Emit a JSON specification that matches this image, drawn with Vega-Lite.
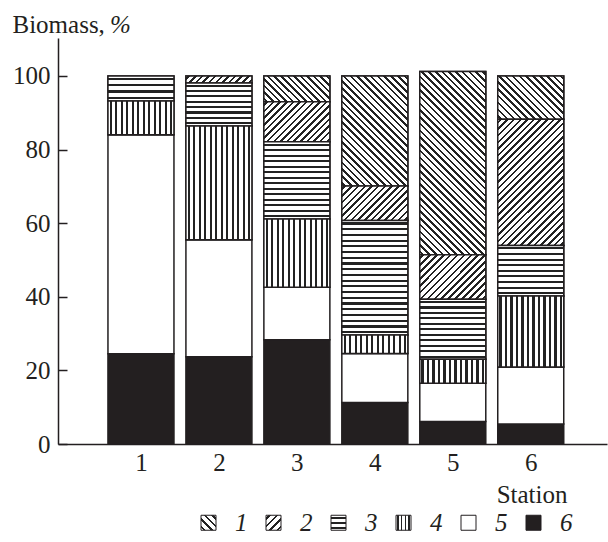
{
"$schema":"https://vega.github.io/schema/vega-lite/v6.json",
"width":549,"height":406,
"autosize":{"type":"none"},
"padding":{"left":58,"top":38,"right":1,"bottom":98},
"background":"white",
"config":{"view":{"stroke":null},"font":"Liberation Serif"},
"title":{"text":"%","orient":"top","anchor":"start","frame":"group","offset":-25,"dx":52,"dy":21,"baseline":"alphabetic","font":"Liberation Serif","fontStyle":"italic","fontSize":25,"fontWeight":"normal","color":"#231f20"},
"data":{"values":[
{"station":1,"cat":"6","value":24.5},{"station":1,"cat":"5","value":59.5},{"station":1,"cat":"4","value":9.2},{"station":1,"cat":"3","value":6.8},
{"station":2,"cat":"6","value":23.7},{"station":2,"cat":"5","value":31.8},{"station":2,"cat":"4","value":30.9},{"station":2,"cat":"3","value":11.7},{"station":2,"cat":"2","value":1.9},
{"station":3,"cat":"6","value":28.3},{"station":3,"cat":"5","value":14.3},{"station":3,"cat":"4","value":18.5},{"station":3,"cat":"3","value":21.0},{"station":3,"cat":"2","value":10.9},{"station":3,"cat":"1","value":7.0},
{"station":4,"cat":"6","value":11.3},{"station":4,"cat":"5","value":13.3},{"station":4,"cat":"4","value":5.0},{"station":4,"cat":"3","value":31.1},{"station":4,"cat":"2","value":9.4},{"station":4,"cat":"1","value":29.9},
{"station":5,"cat":"6","value":6.1},{"station":5,"cat":"5","value":10.4},{"station":5,"cat":"4","value":6.5},{"station":5,"cat":"3","value":16.3},{"station":5,"cat":"2","value":12.1},{"station":5,"cat":"1","value":49.8},
{"station":6,"cat":"6","value":5.4},{"station":6,"cat":"5","value":15.5},{"station":6,"cat":"4","value":19.3},{"station":6,"cat":"3","value":13.7},{"station":6,"cat":"2","value":34.3},{"station":6,"cat":"1","value":11.8}
]},
"transform":[{"stack":"value","groupby":["station"],"sort":[{"field":"cat","order":"descending"}],"as":["y0","y1"]}],
"encoding":{
"x":{"field":"station","type":"quantitative","scale":{"domain":[0,6.914],"nice":false,"zero":false},
 "axis":{"values":[1,2,3,4,5,6],"format":"d","ticks":false,"grid":false,"labelFlush":false,"domainColor":"#231f20","domainWidth":1.5,"labelFont":"Liberation Serif","labelFontSize":25,"labelColor":"#231f20","labelPadding":6,
 "title":"Station","titleFont":"Liberation Serif","titleFontSize":25,"titleFontWeight":"normal","titleColor":"#231f20","titleX":509,"titleY":58,"titleAlign":"right","titleBaseline":"alphabetic","titleAnchor":null}},
"y":{"field":"y0","type":"quantitative","scale":{"domain":[0,110.3],"nice":false},
 "axis":{"values":[0,20,40,60,80,100],"grid":false,"tickSize":-9,"tickWidth":1.5,"tickColor":"#231f20","domainColor":"#231f20","domainWidth":1.5,"labelFont":"Liberation Serif","labelFontSize":25,"labelColor":"#231f20","labelPadding":17,
 "title":"Biomass,","titleFont":"Liberation Serif","titleFontSize":25,"titleFontWeight":"normal","titleColor":"#231f20","titleAngle":0,"titleX":-46,"titleY":-6,"titleAlign":"left","titleBaseline":"alphabetic","titleAnchor":null}},
"y2":{"field":"y1"}
},
"layer":[
{"mark":{"type":"bar","width":66,"stroke":"#231f20","strokeWidth":1.5},
 "encoding":{"fill":{"field":"cat","type":"nominal","scale":{"domain":["1","2","3","4","5","6"],"range":[
 {"expr":"{gradient:'linear',x1:0,y1:1,x2:1,y2:0,stops:[{offset:0.0775,color:'#fff'},{offset:0.0775,color:'#222'},{offset:0.1725,color:'#222'},{offset:0.1725,color:'#fff'},{offset:0.3275,color:'#fff'},{offset:0.3275,color:'#222'},{offset:0.4225,color:'#222'},{offset:0.4225,color:'#fff'},{offset:0.5775,color:'#fff'},{offset:0.5775,color:'#222'},{offset:0.6725,color:'#222'},{offset:0.6725,color:'#fff'},{offset:0.8275,color:'#fff'},{offset:0.8275,color:'#222'},{offset:0.9225,color:'#222'},{offset:0.9225,color:'#fff'}]}"},
 {"expr":"{gradient:'linear',x1:0,y1:0,x2:1,y2:1,stops:[{offset:0.0775,color:'#fff'},{offset:0.0775,color:'#222'},{offset:0.1725,color:'#222'},{offset:0.1725,color:'#fff'},{offset:0.3275,color:'#fff'},{offset:0.3275,color:'#222'},{offset:0.4225,color:'#222'},{offset:0.4225,color:'#fff'},{offset:0.5775,color:'#fff'},{offset:0.5775,color:'#222'},{offset:0.6725,color:'#222'},{offset:0.6725,color:'#fff'},{offset:0.8275,color:'#fff'},{offset:0.8275,color:'#222'},{offset:0.9225,color:'#222'},{offset:0.9225,color:'#fff'}]}"},
 {"expr":"{gradient:'linear',x1:0,y1:0,x2:0,y2:1,stops:[{offset:0.1033,color:'#fff'},{offset:0.1033,color:'#222'},{offset:0.23,color:'#222'},{offset:0.23,color:'#fff'},{offset:0.4367,color:'#fff'},{offset:0.4367,color:'#222'},{offset:0.5633,color:'#222'},{offset:0.5633,color:'#fff'},{offset:0.77,color:'#fff'},{offset:0.77,color:'#222'},{offset:0.8967,color:'#222'},{offset:0.8967,color:'#fff'}]}"},
 {"expr":"{gradient:'linear',x1:0,y1:0,x2:1,y2:0,stops:[{offset:0.0775,color:'#fff'},{offset:0.0775,color:'#222'},{offset:0.1725,color:'#222'},{offset:0.1725,color:'#fff'},{offset:0.3275,color:'#fff'},{offset:0.3275,color:'#222'},{offset:0.4225,color:'#222'},{offset:0.4225,color:'#fff'},{offset:0.5775,color:'#fff'},{offset:0.5775,color:'#222'},{offset:0.6725,color:'#222'},{offset:0.6725,color:'#fff'},{offset:0.8275,color:'#fff'},{offset:0.8275,color:'#222'},{offset:0.9225,color:'#222'},{offset:0.9225,color:'#fff'}]}"},
 "#ffffff","#231f20"]},
 "legend":{"orient":"none","direction":"horizontal","legendX":138,"legendY":472,"title":null,"symbolType":"square","symbolSize":225,"symbolStrokeColor":"#231f20","symbolStrokeWidth":1,"symbolOpacity":1,"labelFont":"Liberation Serif","labelFontStyle":"italic","labelFontSize":25,"labelColor":"#231f20","labelOffset":14,"columnPadding":13}}}},
{"transform":[{"filter":"datum.station==3 && datum.cat=='1'"}],
 "mark":{"type":"bar","width":66,"stroke":"#231f20","strokeWidth":1.5,"fill":{"gradient":"linear","x1":0,"y1":1,"x2":1.2065,"y2":0.5283,"stops":[
{"offset":0.0221,"color":"#fff"},{"offset":0.0221,"color":"#222"},{"offset":0.0493,"color":"#222"},{"offset":0.0493,"color":"#fff"},
{"offset":0.0936,"color":"#fff"},{"offset":0.0936,"color":"#222"},{"offset":0.1207,"color":"#222"},{"offset":0.1207,"color":"#fff"},
{"offset":0.165,"color":"#fff"},{"offset":0.165,"color":"#222"},{"offset":0.1921,"color":"#222"},{"offset":0.1921,"color":"#fff"},
{"offset":0.2364,"color":"#fff"},{"offset":0.2364,"color":"#222"},{"offset":0.2636,"color":"#222"},{"offset":0.2636,"color":"#fff"},
{"offset":0.3079,"color":"#fff"},{"offset":0.3079,"color":"#222"},{"offset":0.335,"color":"#222"},{"offset":0.335,"color":"#fff"},
{"offset":0.3793,"color":"#fff"},{"offset":0.3793,"color":"#222"},{"offset":0.4064,"color":"#222"},{"offset":0.4064,"color":"#fff"},
{"offset":0.4507,"color":"#fff"},{"offset":0.4507,"color":"#222"},{"offset":0.4779,"color":"#222"},{"offset":0.4779,"color":"#fff"},
{"offset":0.5221,"color":"#fff"},{"offset":0.5221,"color":"#222"},{"offset":0.5493,"color":"#222"},{"offset":0.5493,"color":"#fff"},
{"offset":0.5936,"color":"#fff"},{"offset":0.5936,"color":"#222"},{"offset":0.6207,"color":"#222"},{"offset":0.6207,"color":"#fff"},
{"offset":0.665,"color":"#fff"},{"offset":0.665,"color":"#222"},{"offset":0.6921,"color":"#222"},{"offset":0.6921,"color":"#fff"},
{"offset":0.7364,"color":"#fff"},{"offset":0.7364,"color":"#222"},{"offset":0.7636,"color":"#222"},{"offset":0.7636,"color":"#fff"},
{"offset":0.8079,"color":"#fff"},{"offset":0.8079,"color":"#222"},{"offset":0.835,"color":"#222"},{"offset":0.835,"color":"#fff"},
{"offset":0.8793,"color":"#fff"},{"offset":0.8793,"color":"#222"},{"offset":0.9064,"color":"#222"},{"offset":0.9064,"color":"#fff"},
{"offset":0.9507,"color":"#fff"},{"offset":0.9507,"color":"#222"},{"offset":0.9779,"color":"#222"},{"offset":0.9779,"color":"#fff"}]}}},
{"transform":[{"filter":"datum.station==4 && datum.cat=='1'"}],
 "mark":{"type":"bar","width":66,"stroke":"#231f20","strokeWidth":1.5,"fill":{"gradient":"linear","x1":0,"y1":1,"x2":0.7054,"y2":-0.1766,"stops":[
{"offset":0.0119,"color":"#fff"},{"offset":0.0119,"color":"#222"},{"offset":0.0265,"color":"#222"},{"offset":0.0265,"color":"#fff"},
{"offset":0.0504,"color":"#fff"},{"offset":0.0504,"color":"#222"},{"offset":0.065,"color":"#222"},{"offset":0.065,"color":"#fff"},
{"offset":0.0888,"color":"#fff"},{"offset":0.0888,"color":"#222"},{"offset":0.1035,"color":"#222"},{"offset":0.1035,"color":"#fff"},
{"offset":0.1273,"color":"#fff"},{"offset":0.1273,"color":"#222"},{"offset":0.1419,"color":"#222"},{"offset":0.1419,"color":"#fff"},
{"offset":0.1658,"color":"#fff"},{"offset":0.1658,"color":"#222"},{"offset":0.1804,"color":"#222"},{"offset":0.1804,"color":"#fff"},
{"offset":0.2042,"color":"#fff"},{"offset":0.2042,"color":"#222"},{"offset":0.2188,"color":"#222"},{"offset":0.2188,"color":"#fff"},
{"offset":0.2427,"color":"#fff"},{"offset":0.2427,"color":"#222"},{"offset":0.2573,"color":"#222"},{"offset":0.2573,"color":"#fff"},
{"offset":0.2812,"color":"#fff"},{"offset":0.2812,"color":"#222"},{"offset":0.2958,"color":"#222"},{"offset":0.2958,"color":"#fff"},
{"offset":0.3196,"color":"#fff"},{"offset":0.3196,"color":"#222"},{"offset":0.3342,"color":"#222"},{"offset":0.3342,"color":"#fff"},
{"offset":0.3581,"color":"#fff"},{"offset":0.3581,"color":"#222"},{"offset":0.3727,"color":"#222"},{"offset":0.3727,"color":"#fff"},
{"offset":0.3965,"color":"#fff"},{"offset":0.3965,"color":"#222"},{"offset":0.4112,"color":"#222"},{"offset":0.4112,"color":"#fff"},
{"offset":0.435,"color":"#fff"},{"offset":0.435,"color":"#222"},{"offset":0.4496,"color":"#222"},{"offset":0.4496,"color":"#fff"},
{"offset":0.4735,"color":"#fff"},{"offset":0.4735,"color":"#222"},{"offset":0.4881,"color":"#222"},{"offset":0.4881,"color":"#fff"},
{"offset":0.5119,"color":"#fff"},{"offset":0.5119,"color":"#222"},{"offset":0.5265,"color":"#222"},{"offset":0.5265,"color":"#fff"},
{"offset":0.5504,"color":"#fff"},{"offset":0.5504,"color":"#222"},{"offset":0.565,"color":"#222"},{"offset":0.565,"color":"#fff"},
{"offset":0.5888,"color":"#fff"},{"offset":0.5888,"color":"#222"},{"offset":0.6035,"color":"#222"},{"offset":0.6035,"color":"#fff"},
{"offset":0.6273,"color":"#fff"},{"offset":0.6273,"color":"#222"},{"offset":0.6419,"color":"#222"},{"offset":0.6419,"color":"#fff"},
{"offset":0.6658,"color":"#fff"},{"offset":0.6658,"color":"#222"},{"offset":0.6804,"color":"#222"},{"offset":0.6804,"color":"#fff"},
{"offset":0.7042,"color":"#fff"},{"offset":0.7042,"color":"#222"},{"offset":0.7188,"color":"#222"},{"offset":0.7188,"color":"#fff"},
{"offset":0.7427,"color":"#fff"},{"offset":0.7427,"color":"#222"},{"offset":0.7573,"color":"#222"},{"offset":0.7573,"color":"#fff"},
{"offset":0.7812,"color":"#fff"},{"offset":0.7812,"color":"#222"},{"offset":0.7958,"color":"#222"},{"offset":0.7958,"color":"#fff"},
{"offset":0.8196,"color":"#fff"},{"offset":0.8196,"color":"#222"},{"offset":0.8342,"color":"#222"},{"offset":0.8342,"color":"#fff"},
{"offset":0.8581,"color":"#fff"},{"offset":0.8581,"color":"#222"},{"offset":0.8727,"color":"#222"},{"offset":0.8727,"color":"#fff"},
{"offset":0.8965,"color":"#fff"},{"offset":0.8965,"color":"#222"},{"offset":0.9112,"color":"#222"},{"offset":0.9112,"color":"#fff"},
{"offset":0.935,"color":"#fff"},{"offset":0.935,"color":"#222"},{"offset":0.9496,"color":"#222"},{"offset":0.9496,"color":"#fff"},
{"offset":0.9735,"color":"#fff"},{"offset":0.9735,"color":"#222"},{"offset":0.9881,"color":"#222"},{"offset":0.9881,"color":"#fff"}]}}},
{"transform":[{"filter":"datum.station==5 && datum.cat=='1'"}],
 "mark":{"type":"bar","width":66,"stroke":"#231f20","strokeWidth":1.5,"fill":{"gradient":"linear","x1":0,"y1":1,"x2":0.4335,"y2":-0.2039,"stops":[
{"offset":0.0084,"color":"#fff"},{"offset":0.0084,"color":"#222"},{"offset":0.0186,"color":"#222"},{"offset":0.0186,"color":"#fff"},
{"offset":0.0354,"color":"#fff"},{"offset":0.0354,"color":"#222"},{"offset":0.0457,"color":"#222"},{"offset":0.0457,"color":"#fff"},
{"offset":0.0624,"color":"#fff"},{"offset":0.0624,"color":"#222"},{"offset":0.0727,"color":"#222"},{"offset":0.0727,"color":"#fff"},
{"offset":0.0894,"color":"#fff"},{"offset":0.0894,"color":"#222"},{"offset":0.0997,"color":"#222"},{"offset":0.0997,"color":"#fff"},
{"offset":0.1165,"color":"#fff"},{"offset":0.1165,"color":"#222"},{"offset":0.1268,"color":"#222"},{"offset":0.1268,"color":"#fff"},
{"offset":0.1435,"color":"#fff"},{"offset":0.1435,"color":"#222"},{"offset":0.1538,"color":"#222"},{"offset":0.1538,"color":"#fff"},
{"offset":0.1705,"color":"#fff"},{"offset":0.1705,"color":"#222"},{"offset":0.1808,"color":"#222"},{"offset":0.1808,"color":"#fff"},
{"offset":0.1975,"color":"#fff"},{"offset":0.1975,"color":"#222"},{"offset":0.2078,"color":"#222"},{"offset":0.2078,"color":"#fff"},
{"offset":0.2246,"color":"#fff"},{"offset":0.2246,"color":"#222"},{"offset":0.2349,"color":"#222"},{"offset":0.2349,"color":"#fff"},
{"offset":0.2516,"color":"#fff"},{"offset":0.2516,"color":"#222"},{"offset":0.2619,"color":"#222"},{"offset":0.2619,"color":"#fff"},
{"offset":0.2786,"color":"#fff"},{"offset":0.2786,"color":"#222"},{"offset":0.2889,"color":"#222"},{"offset":0.2889,"color":"#fff"},
{"offset":0.3056,"color":"#fff"},{"offset":0.3056,"color":"#222"},{"offset":0.3159,"color":"#222"},{"offset":0.3159,"color":"#fff"},
{"offset":0.3327,"color":"#fff"},{"offset":0.3327,"color":"#222"},{"offset":0.343,"color":"#222"},{"offset":0.343,"color":"#fff"},
{"offset":0.3597,"color":"#fff"},{"offset":0.3597,"color":"#222"},{"offset":0.37,"color":"#222"},{"offset":0.37,"color":"#fff"},
{"offset":0.3867,"color":"#fff"},{"offset":0.3867,"color":"#222"},{"offset":0.397,"color":"#222"},{"offset":0.397,"color":"#fff"},
{"offset":0.4138,"color":"#fff"},{"offset":0.4138,"color":"#222"},{"offset":0.4241,"color":"#222"},{"offset":0.4241,"color":"#fff"},
{"offset":0.4408,"color":"#fff"},{"offset":0.4408,"color":"#222"},{"offset":0.4511,"color":"#222"},{"offset":0.4511,"color":"#fff"},
{"offset":0.4678,"color":"#fff"},{"offset":0.4678,"color":"#222"},{"offset":0.4781,"color":"#222"},{"offset":0.4781,"color":"#fff"},
{"offset":0.4948,"color":"#fff"},{"offset":0.4948,"color":"#222"},{"offset":0.5051,"color":"#222"},{"offset":0.5051,"color":"#fff"},
{"offset":0.5219,"color":"#fff"},{"offset":0.5219,"color":"#222"},{"offset":0.5322,"color":"#222"},{"offset":0.5322,"color":"#fff"},
{"offset":0.5489,"color":"#fff"},{"offset":0.5489,"color":"#222"},{"offset":0.5592,"color":"#222"},{"offset":0.5592,"color":"#fff"},
{"offset":0.5759,"color":"#fff"},{"offset":0.5759,"color":"#222"},{"offset":0.5862,"color":"#222"},{"offset":0.5862,"color":"#fff"},
{"offset":0.603,"color":"#fff"},{"offset":0.603,"color":"#222"},{"offset":0.6132,"color":"#222"},{"offset":0.6132,"color":"#fff"},
{"offset":0.63,"color":"#fff"},{"offset":0.63,"color":"#222"},{"offset":0.6403,"color":"#222"},{"offset":0.6403,"color":"#fff"},
{"offset":0.657,"color":"#fff"},{"offset":0.657,"color":"#222"},{"offset":0.6673,"color":"#222"},{"offset":0.6673,"color":"#fff"},
{"offset":0.684,"color":"#fff"},{"offset":0.684,"color":"#222"},{"offset":0.6943,"color":"#222"},{"offset":0.6943,"color":"#fff"},
{"offset":0.7111,"color":"#fff"},{"offset":0.7111,"color":"#222"},{"offset":0.7213,"color":"#222"},{"offset":0.7213,"color":"#fff"},
{"offset":0.7381,"color":"#fff"},{"offset":0.7381,"color":"#222"},{"offset":0.7484,"color":"#222"},{"offset":0.7484,"color":"#fff"},
{"offset":0.7651,"color":"#fff"},{"offset":0.7651,"color":"#222"},{"offset":0.7754,"color":"#222"},{"offset":0.7754,"color":"#fff"},
{"offset":0.7922,"color":"#fff"},{"offset":0.7922,"color":"#222"},{"offset":0.8024,"color":"#222"},{"offset":0.8024,"color":"#fff"},
{"offset":0.8192,"color":"#fff"},{"offset":0.8192,"color":"#222"},{"offset":0.8295,"color":"#222"},{"offset":0.8295,"color":"#fff"},
{"offset":0.8462,"color":"#fff"},{"offset":0.8462,"color":"#222"},{"offset":0.8565,"color":"#222"},{"offset":0.8565,"color":"#fff"},
{"offset":0.8732,"color":"#fff"},{"offset":0.8732,"color":"#222"},{"offset":0.8835,"color":"#222"},{"offset":0.8835,"color":"#fff"},
{"offset":0.9003,"color":"#fff"},{"offset":0.9003,"color":"#222"},{"offset":0.9105,"color":"#222"},{"offset":0.9105,"color":"#fff"},
{"offset":0.9273,"color":"#fff"},{"offset":0.9273,"color":"#222"},{"offset":0.9376,"color":"#222"},{"offset":0.9376,"color":"#fff"},
{"offset":0.9543,"color":"#fff"},{"offset":0.9543,"color":"#222"},{"offset":0.9646,"color":"#222"},{"offset":0.9646,"color":"#fff"},
{"offset":0.9814,"color":"#fff"},{"offset":0.9814,"color":"#222"},{"offset":0.9916,"color":"#222"},{"offset":0.9916,"color":"#fff"}]}}},
{"transform":[{"filter":"datum.station==6 && datum.cat=='1'"}],
 "mark":{"type":"bar","width":66,"stroke":"#231f20","strokeWidth":1.5,"fill":{"gradient":"linear","x1":0,"y1":1,"x2":1.157,"y2":0.2387,"stops":[
{"offset":0.0194,"color":"#fff"},{"offset":0.0194,"color":"#222"},{"offset":0.0431,"color":"#222"},{"offset":0.0431,"color":"#fff"},
{"offset":0.0819,"color":"#fff"},{"offset":0.0819,"color":"#222"},{"offset":0.1056,"color":"#222"},{"offset":0.1056,"color":"#fff"},
{"offset":0.1444,"color":"#fff"},{"offset":0.1444,"color":"#222"},{"offset":0.1681,"color":"#222"},{"offset":0.1681,"color":"#fff"},
{"offset":0.2069,"color":"#fff"},{"offset":0.2069,"color":"#222"},{"offset":0.2306,"color":"#222"},{"offset":0.2306,"color":"#fff"},
{"offset":0.2694,"color":"#fff"},{"offset":0.2694,"color":"#222"},{"offset":0.2931,"color":"#222"},{"offset":0.2931,"color":"#fff"},
{"offset":0.3319,"color":"#fff"},{"offset":0.3319,"color":"#222"},{"offset":0.3556,"color":"#222"},{"offset":0.3556,"color":"#fff"},
{"offset":0.3944,"color":"#fff"},{"offset":0.3944,"color":"#222"},{"offset":0.4181,"color":"#222"},{"offset":0.4181,"color":"#fff"},
{"offset":0.4569,"color":"#fff"},{"offset":0.4569,"color":"#222"},{"offset":0.4806,"color":"#222"},{"offset":0.4806,"color":"#fff"},
{"offset":0.5194,"color":"#fff"},{"offset":0.5194,"color":"#222"},{"offset":0.5431,"color":"#222"},{"offset":0.5431,"color":"#fff"},
{"offset":0.5819,"color":"#fff"},{"offset":0.5819,"color":"#222"},{"offset":0.6056,"color":"#222"},{"offset":0.6056,"color":"#fff"},
{"offset":0.6444,"color":"#fff"},{"offset":0.6444,"color":"#222"},{"offset":0.6681,"color":"#222"},{"offset":0.6681,"color":"#fff"},
{"offset":0.7069,"color":"#fff"},{"offset":0.7069,"color":"#222"},{"offset":0.7306,"color":"#222"},{"offset":0.7306,"color":"#fff"},
{"offset":0.7694,"color":"#fff"},{"offset":0.7694,"color":"#222"},{"offset":0.7931,"color":"#222"},{"offset":0.7931,"color":"#fff"},
{"offset":0.8319,"color":"#fff"},{"offset":0.8319,"color":"#222"},{"offset":0.8556,"color":"#222"},{"offset":0.8556,"color":"#fff"},
{"offset":0.8944,"color":"#fff"},{"offset":0.8944,"color":"#222"},{"offset":0.9181,"color":"#222"},{"offset":0.9181,"color":"#fff"},
{"offset":0.9569,"color":"#fff"},{"offset":0.9569,"color":"#222"},{"offset":0.9806,"color":"#222"},{"offset":0.9806,"color":"#fff"}]}}},
{"transform":[{"filter":"datum.station==2 && datum.cat=='2'"}],
 "mark":{"type":"bar","width":66,"stroke":"#231f20","strokeWidth":1.5,"fill":{"gradient":"linear","x1":0,"y1":0,"x2":1.0937,"y2":0.1159,"stops":[
{"offset":0.0282,"color":"#fff"},{"offset":0.0282,"color":"#222"},{"offset":0.0627,"color":"#222"},{"offset":0.0627,"color":"#fff"},
{"offset":0.1191,"color":"#fff"},{"offset":0.1191,"color":"#222"},{"offset":0.1536,"color":"#222"},{"offset":0.1536,"color":"#fff"},
{"offset":0.21,"color":"#fff"},{"offset":0.21,"color":"#222"},{"offset":0.2445,"color":"#222"},{"offset":0.2445,"color":"#fff"},
{"offset":0.3009,"color":"#fff"},{"offset":0.3009,"color":"#222"},{"offset":0.3355,"color":"#222"},{"offset":0.3355,"color":"#fff"},
{"offset":0.3918,"color":"#fff"},{"offset":0.3918,"color":"#222"},{"offset":0.4264,"color":"#222"},{"offset":0.4264,"color":"#fff"},
{"offset":0.4827,"color":"#fff"},{"offset":0.4827,"color":"#222"},{"offset":0.5173,"color":"#222"},{"offset":0.5173,"color":"#fff"},
{"offset":0.5736,"color":"#fff"},{"offset":0.5736,"color":"#222"},{"offset":0.6082,"color":"#222"},{"offset":0.6082,"color":"#fff"},
{"offset":0.6645,"color":"#fff"},{"offset":0.6645,"color":"#222"},{"offset":0.6991,"color":"#222"},{"offset":0.6991,"color":"#fff"},
{"offset":0.7555,"color":"#fff"},{"offset":0.7555,"color":"#222"},{"offset":0.79,"color":"#222"},{"offset":0.79,"color":"#fff"},
{"offset":0.8464,"color":"#fff"},{"offset":0.8464,"color":"#222"},{"offset":0.8809,"color":"#222"},{"offset":0.8809,"color":"#fff"},
{"offset":0.9373,"color":"#fff"},{"offset":0.9373,"color":"#222"},{"offset":0.9718,"color":"#222"},{"offset":0.9718,"color":"#fff"}]}}},
{"transform":[{"filter":"datum.station==3 && datum.cat=='2'"}],
 "mark":{"type":"bar","width":66,"stroke":"#231f20","strokeWidth":1.5,"fill":{"gradient":"linear","x1":0,"y1":0,"x2":1.1741,"y2":0.7134,"stops":[
{"offset":0.0194,"color":"#fff"},{"offset":0.0194,"color":"#222"},{"offset":0.0431,"color":"#222"},{"offset":0.0431,"color":"#fff"},
{"offset":0.0819,"color":"#fff"},{"offset":0.0819,"color":"#222"},{"offset":0.1056,"color":"#222"},{"offset":0.1056,"color":"#fff"},
{"offset":0.1444,"color":"#fff"},{"offset":0.1444,"color":"#222"},{"offset":0.1681,"color":"#222"},{"offset":0.1681,"color":"#fff"},
{"offset":0.2069,"color":"#fff"},{"offset":0.2069,"color":"#222"},{"offset":0.2306,"color":"#222"},{"offset":0.2306,"color":"#fff"},
{"offset":0.2694,"color":"#fff"},{"offset":0.2694,"color":"#222"},{"offset":0.2931,"color":"#222"},{"offset":0.2931,"color":"#fff"},
{"offset":0.3319,"color":"#fff"},{"offset":0.3319,"color":"#222"},{"offset":0.3556,"color":"#222"},{"offset":0.3556,"color":"#fff"},
{"offset":0.3944,"color":"#fff"},{"offset":0.3944,"color":"#222"},{"offset":0.4181,"color":"#222"},{"offset":0.4181,"color":"#fff"},
{"offset":0.4569,"color":"#fff"},{"offset":0.4569,"color":"#222"},{"offset":0.4806,"color":"#222"},{"offset":0.4806,"color":"#fff"},
{"offset":0.5194,"color":"#fff"},{"offset":0.5194,"color":"#222"},{"offset":0.5431,"color":"#222"},{"offset":0.5431,"color":"#fff"},
{"offset":0.5819,"color":"#fff"},{"offset":0.5819,"color":"#222"},{"offset":0.6056,"color":"#222"},{"offset":0.6056,"color":"#fff"},
{"offset":0.6444,"color":"#fff"},{"offset":0.6444,"color":"#222"},{"offset":0.6681,"color":"#222"},{"offset":0.6681,"color":"#fff"},
{"offset":0.7069,"color":"#fff"},{"offset":0.7069,"color":"#222"},{"offset":0.7306,"color":"#222"},{"offset":0.7306,"color":"#fff"},
{"offset":0.7694,"color":"#fff"},{"offset":0.7694,"color":"#222"},{"offset":0.7931,"color":"#222"},{"offset":0.7931,"color":"#fff"},
{"offset":0.8319,"color":"#fff"},{"offset":0.8319,"color":"#222"},{"offset":0.8556,"color":"#222"},{"offset":0.8556,"color":"#fff"},
{"offset":0.8944,"color":"#fff"},{"offset":0.8944,"color":"#222"},{"offset":0.9181,"color":"#222"},{"offset":0.9181,"color":"#fff"},
{"offset":0.9569,"color":"#fff"},{"offset":0.9569,"color":"#222"},{"offset":0.9806,"color":"#222"},{"offset":0.9806,"color":"#fff"}]}}},
{"transform":[{"filter":"datum.station==4 && datum.cat=='2'"}],
 "mark":{"type":"bar","width":66,"stroke":"#231f20","strokeWidth":1.5,"fill":{"gradient":"linear","x1":0,"y1":0,"x2":1.1956,"y2":0.6268,"stops":[
{"offset":0.0207,"color":"#fff"},{"offset":0.0207,"color":"#222"},{"offset":0.046,"color":"#222"},{"offset":0.046,"color":"#fff"},
{"offset":0.0873,"color":"#fff"},{"offset":0.0873,"color":"#222"},{"offset":0.1127,"color":"#222"},{"offset":0.1127,"color":"#fff"},
{"offset":0.154,"color":"#fff"},{"offset":0.154,"color":"#222"},{"offset":0.1793,"color":"#222"},{"offset":0.1793,"color":"#fff"},
{"offset":0.2207,"color":"#fff"},{"offset":0.2207,"color":"#222"},{"offset":0.246,"color":"#222"},{"offset":0.246,"color":"#fff"},
{"offset":0.2873,"color":"#fff"},{"offset":0.2873,"color":"#222"},{"offset":0.3127,"color":"#222"},{"offset":0.3127,"color":"#fff"},
{"offset":0.354,"color":"#fff"},{"offset":0.354,"color":"#222"},{"offset":0.3793,"color":"#222"},{"offset":0.3793,"color":"#fff"},
{"offset":0.4207,"color":"#fff"},{"offset":0.4207,"color":"#222"},{"offset":0.446,"color":"#222"},{"offset":0.446,"color":"#fff"},
{"offset":0.4873,"color":"#fff"},{"offset":0.4873,"color":"#222"},{"offset":0.5127,"color":"#222"},{"offset":0.5127,"color":"#fff"},
{"offset":0.554,"color":"#fff"},{"offset":0.554,"color":"#222"},{"offset":0.5793,"color":"#222"},{"offset":0.5793,"color":"#fff"},
{"offset":0.6207,"color":"#fff"},{"offset":0.6207,"color":"#222"},{"offset":0.646,"color":"#222"},{"offset":0.646,"color":"#fff"},
{"offset":0.6873,"color":"#fff"},{"offset":0.6873,"color":"#222"},{"offset":0.7127,"color":"#222"},{"offset":0.7127,"color":"#fff"},
{"offset":0.754,"color":"#fff"},{"offset":0.754,"color":"#222"},{"offset":0.7793,"color":"#222"},{"offset":0.7793,"color":"#fff"},
{"offset":0.8207,"color":"#fff"},{"offset":0.8207,"color":"#222"},{"offset":0.846,"color":"#222"},{"offset":0.846,"color":"#fff"},
{"offset":0.8873,"color":"#fff"},{"offset":0.8873,"color":"#222"},{"offset":0.9127,"color":"#222"},{"offset":0.9127,"color":"#fff"},
{"offset":0.954,"color":"#fff"},{"offset":0.954,"color":"#222"},{"offset":0.9793,"color":"#222"},{"offset":0.9793,"color":"#fff"}]}}},
{"transform":[{"filter":"datum.station==5 && datum.cat=='2'"}],
 "mark":{"type":"bar","width":66,"stroke":"#231f20","strokeWidth":1.5,"fill":{"gradient":"linear","x1":0,"y1":0,"x2":1.151,"y2":0.776,"stops":[
{"offset":0.0194,"color":"#fff"},{"offset":0.0194,"color":"#222"},{"offset":0.0431,"color":"#222"},{"offset":0.0431,"color":"#fff"},
{"offset":0.0819,"color":"#fff"},{"offset":0.0819,"color":"#222"},{"offset":0.1056,"color":"#222"},{"offset":0.1056,"color":"#fff"},
{"offset":0.1444,"color":"#fff"},{"offset":0.1444,"color":"#222"},{"offset":0.1681,"color":"#222"},{"offset":0.1681,"color":"#fff"},
{"offset":0.2069,"color":"#fff"},{"offset":0.2069,"color":"#222"},{"offset":0.2306,"color":"#222"},{"offset":0.2306,"color":"#fff"},
{"offset":0.2694,"color":"#fff"},{"offset":0.2694,"color":"#222"},{"offset":0.2931,"color":"#222"},{"offset":0.2931,"color":"#fff"},
{"offset":0.3319,"color":"#fff"},{"offset":0.3319,"color":"#222"},{"offset":0.3556,"color":"#222"},{"offset":0.3556,"color":"#fff"},
{"offset":0.3944,"color":"#fff"},{"offset":0.3944,"color":"#222"},{"offset":0.4181,"color":"#222"},{"offset":0.4181,"color":"#fff"},
{"offset":0.4569,"color":"#fff"},{"offset":0.4569,"color":"#222"},{"offset":0.4806,"color":"#222"},{"offset":0.4806,"color":"#fff"},
{"offset":0.5194,"color":"#fff"},{"offset":0.5194,"color":"#222"},{"offset":0.5431,"color":"#222"},{"offset":0.5431,"color":"#fff"},
{"offset":0.5819,"color":"#fff"},{"offset":0.5819,"color":"#222"},{"offset":0.6056,"color":"#222"},{"offset":0.6056,"color":"#fff"},
{"offset":0.6444,"color":"#fff"},{"offset":0.6444,"color":"#222"},{"offset":0.6681,"color":"#222"},{"offset":0.6681,"color":"#fff"},
{"offset":0.7069,"color":"#fff"},{"offset":0.7069,"color":"#222"},{"offset":0.7306,"color":"#222"},{"offset":0.7306,"color":"#fff"},
{"offset":0.7694,"color":"#fff"},{"offset":0.7694,"color":"#222"},{"offset":0.7931,"color":"#222"},{"offset":0.7931,"color":"#fff"},
{"offset":0.8319,"color":"#fff"},{"offset":0.8319,"color":"#222"},{"offset":0.8556,"color":"#222"},{"offset":0.8556,"color":"#fff"},
{"offset":0.8944,"color":"#fff"},{"offset":0.8944,"color":"#222"},{"offset":0.9181,"color":"#222"},{"offset":0.9181,"color":"#fff"},
{"offset":0.9569,"color":"#fff"},{"offset":0.9569,"color":"#222"},{"offset":0.9806,"color":"#222"},{"offset":0.9806,"color":"#fff"}]}}},
{"transform":[{"filter":"datum.station==6 && datum.cat=='2'"}],
 "mark":{"type":"bar","width":66,"stroke":"#231f20","strokeWidth":1.5,"fill":{"gradient":"linear","x1":0,"y1":0,"x2":0.625,"y2":1.196,"stops":[
{"offset":0.0107,"color":"#fff"},{"offset":0.0107,"color":"#222"},{"offset":0.0238,"color":"#222"},{"offset":0.0238,"color":"#fff"},
{"offset":0.0452,"color":"#fff"},{"offset":0.0452,"color":"#222"},{"offset":0.0583,"color":"#222"},{"offset":0.0583,"color":"#fff"},
{"offset":0.0797,"color":"#fff"},{"offset":0.0797,"color":"#222"},{"offset":0.0928,"color":"#222"},{"offset":0.0928,"color":"#fff"},
{"offset":0.1141,"color":"#fff"},{"offset":0.1141,"color":"#222"},{"offset":0.1272,"color":"#222"},{"offset":0.1272,"color":"#fff"},
{"offset":0.1486,"color":"#fff"},{"offset":0.1486,"color":"#222"},{"offset":0.1617,"color":"#222"},{"offset":0.1617,"color":"#fff"},
{"offset":0.1831,"color":"#fff"},{"offset":0.1831,"color":"#222"},{"offset":0.1962,"color":"#222"},{"offset":0.1962,"color":"#fff"},
{"offset":0.2176,"color":"#fff"},{"offset":0.2176,"color":"#222"},{"offset":0.2307,"color":"#222"},{"offset":0.2307,"color":"#fff"},
{"offset":0.2521,"color":"#fff"},{"offset":0.2521,"color":"#222"},{"offset":0.2652,"color":"#222"},{"offset":0.2652,"color":"#fff"},
{"offset":0.2866,"color":"#fff"},{"offset":0.2866,"color":"#222"},{"offset":0.2997,"color":"#222"},{"offset":0.2997,"color":"#fff"},
{"offset":0.321,"color":"#fff"},{"offset":0.321,"color":"#222"},{"offset":0.3341,"color":"#222"},{"offset":0.3341,"color":"#fff"},
{"offset":0.3555,"color":"#fff"},{"offset":0.3555,"color":"#222"},{"offset":0.3686,"color":"#222"},{"offset":0.3686,"color":"#fff"},
{"offset":0.39,"color":"#fff"},{"offset":0.39,"color":"#222"},{"offset":0.4031,"color":"#222"},{"offset":0.4031,"color":"#fff"},
{"offset":0.4245,"color":"#fff"},{"offset":0.4245,"color":"#222"},{"offset":0.4376,"color":"#222"},{"offset":0.4376,"color":"#fff"},
{"offset":0.459,"color":"#fff"},{"offset":0.459,"color":"#222"},{"offset":0.4721,"color":"#222"},{"offset":0.4721,"color":"#fff"},
{"offset":0.4934,"color":"#fff"},{"offset":0.4934,"color":"#222"},{"offset":0.5066,"color":"#222"},{"offset":0.5066,"color":"#fff"},
{"offset":0.5279,"color":"#fff"},{"offset":0.5279,"color":"#222"},{"offset":0.541,"color":"#222"},{"offset":0.541,"color":"#fff"},
{"offset":0.5624,"color":"#fff"},{"offset":0.5624,"color":"#222"},{"offset":0.5755,"color":"#222"},{"offset":0.5755,"color":"#fff"},
{"offset":0.5969,"color":"#fff"},{"offset":0.5969,"color":"#222"},{"offset":0.61,"color":"#222"},{"offset":0.61,"color":"#fff"},
{"offset":0.6314,"color":"#fff"},{"offset":0.6314,"color":"#222"},{"offset":0.6445,"color":"#222"},{"offset":0.6445,"color":"#fff"},
{"offset":0.6659,"color":"#fff"},{"offset":0.6659,"color":"#222"},{"offset":0.679,"color":"#222"},{"offset":0.679,"color":"#fff"},
{"offset":0.7003,"color":"#fff"},{"offset":0.7003,"color":"#222"},{"offset":0.7134,"color":"#222"},{"offset":0.7134,"color":"#fff"},
{"offset":0.7348,"color":"#fff"},{"offset":0.7348,"color":"#222"},{"offset":0.7479,"color":"#222"},{"offset":0.7479,"color":"#fff"},
{"offset":0.7693,"color":"#fff"},{"offset":0.7693,"color":"#222"},{"offset":0.7824,"color":"#222"},{"offset":0.7824,"color":"#fff"},
{"offset":0.8038,"color":"#fff"},{"offset":0.8038,"color":"#222"},{"offset":0.8169,"color":"#222"},{"offset":0.8169,"color":"#fff"},
{"offset":0.8383,"color":"#fff"},{"offset":0.8383,"color":"#222"},{"offset":0.8514,"color":"#222"},{"offset":0.8514,"color":"#fff"},
{"offset":0.8728,"color":"#fff"},{"offset":0.8728,"color":"#222"},{"offset":0.8859,"color":"#222"},{"offset":0.8859,"color":"#fff"},
{"offset":0.9072,"color":"#fff"},{"offset":0.9072,"color":"#222"},{"offset":0.9203,"color":"#222"},{"offset":0.9203,"color":"#fff"},
{"offset":0.9417,"color":"#fff"},{"offset":0.9417,"color":"#222"},{"offset":0.9548,"color":"#222"},{"offset":0.9548,"color":"#fff"},
{"offset":0.9762,"color":"#fff"},{"offset":0.9762,"color":"#222"},{"offset":0.9893,"color":"#222"},{"offset":0.9893,"color":"#fff"}]}}},
{"transform":[{"filter":"datum.station==1 && datum.cat=='3'"}],
 "mark":{"type":"bar","width":66,"stroke":"#231f20","strokeWidth":1.5,"fill":{"gradient":"linear","x1":0,"y1":0,"x2":0,"y2":1,"stops":[
{"offset":0.0775,"color":"#fff"},{"offset":0.0775,"color":"#222"},{"offset":0.1725,"color":"#222"},{"offset":0.1725,"color":"#fff"},
{"offset":0.3275,"color":"#fff"},{"offset":0.3275,"color":"#222"},{"offset":0.4225,"color":"#222"},{"offset":0.4225,"color":"#fff"},
{"offset":0.5775,"color":"#fff"},{"offset":0.5775,"color":"#222"},{"offset":0.6725,"color":"#222"},{"offset":0.6725,"color":"#fff"},
{"offset":0.8275,"color":"#fff"},{"offset":0.8275,"color":"#222"},{"offset":0.9225,"color":"#222"},{"offset":0.9225,"color":"#fff"}]}}},
{"transform":[{"filter":"datum.station==2 && datum.cat=='3'"}],
 "mark":{"type":"bar","width":66,"stroke":"#231f20","strokeWidth":1.5,"fill":{"gradient":"linear","x1":0,"y1":0,"x2":0,"y2":1,"stops":[
{"offset":0.0388,"color":"#fff"},{"offset":0.0388,"color":"#222"},{"offset":0.0863,"color":"#222"},{"offset":0.0863,"color":"#fff"},
{"offset":0.1638,"color":"#fff"},{"offset":0.1638,"color":"#222"},{"offset":0.2113,"color":"#222"},{"offset":0.2113,"color":"#fff"},
{"offset":0.2888,"color":"#fff"},{"offset":0.2888,"color":"#222"},{"offset":0.3363,"color":"#222"},{"offset":0.3363,"color":"#fff"},
{"offset":0.4138,"color":"#fff"},{"offset":0.4138,"color":"#222"},{"offset":0.4613,"color":"#222"},{"offset":0.4613,"color":"#fff"},
{"offset":0.5388,"color":"#fff"},{"offset":0.5388,"color":"#222"},{"offset":0.5863,"color":"#222"},{"offset":0.5863,"color":"#fff"},
{"offset":0.6638,"color":"#fff"},{"offset":0.6638,"color":"#222"},{"offset":0.7113,"color":"#222"},{"offset":0.7113,"color":"#fff"},
{"offset":0.7888,"color":"#fff"},{"offset":0.7888,"color":"#222"},{"offset":0.8363,"color":"#222"},{"offset":0.8363,"color":"#fff"},
{"offset":0.9138,"color":"#fff"},{"offset":0.9138,"color":"#222"},{"offset":0.9613,"color":"#222"},{"offset":0.9613,"color":"#fff"}]}}},
{"transform":[{"filter":"datum.station==3 && datum.cat=='3'"}],
 "mark":{"type":"bar","width":66,"stroke":"#231f20","strokeWidth":1.5,"fill":{"gradient":"linear","x1":0,"y1":0,"x2":0,"y2":1,"stops":[
{"offset":0.0221,"color":"#fff"},{"offset":0.0221,"color":"#222"},{"offset":0.0493,"color":"#222"},{"offset":0.0493,"color":"#fff"},
{"offset":0.0936,"color":"#fff"},{"offset":0.0936,"color":"#222"},{"offset":0.1207,"color":"#222"},{"offset":0.1207,"color":"#fff"},
{"offset":0.165,"color":"#fff"},{"offset":0.165,"color":"#222"},{"offset":0.1921,"color":"#222"},{"offset":0.1921,"color":"#fff"},
{"offset":0.2364,"color":"#fff"},{"offset":0.2364,"color":"#222"},{"offset":0.2636,"color":"#222"},{"offset":0.2636,"color":"#fff"},
{"offset":0.3079,"color":"#fff"},{"offset":0.3079,"color":"#222"},{"offset":0.335,"color":"#222"},{"offset":0.335,"color":"#fff"},
{"offset":0.3793,"color":"#fff"},{"offset":0.3793,"color":"#222"},{"offset":0.4064,"color":"#222"},{"offset":0.4064,"color":"#fff"},
{"offset":0.4507,"color":"#fff"},{"offset":0.4507,"color":"#222"},{"offset":0.4779,"color":"#222"},{"offset":0.4779,"color":"#fff"},
{"offset":0.5221,"color":"#fff"},{"offset":0.5221,"color":"#222"},{"offset":0.5493,"color":"#222"},{"offset":0.5493,"color":"#fff"},
{"offset":0.5936,"color":"#fff"},{"offset":0.5936,"color":"#222"},{"offset":0.6207,"color":"#222"},{"offset":0.6207,"color":"#fff"},
{"offset":0.665,"color":"#fff"},{"offset":0.665,"color":"#222"},{"offset":0.6921,"color":"#222"},{"offset":0.6921,"color":"#fff"},
{"offset":0.7364,"color":"#fff"},{"offset":0.7364,"color":"#222"},{"offset":0.7636,"color":"#222"},{"offset":0.7636,"color":"#fff"},
{"offset":0.8079,"color":"#fff"},{"offset":0.8079,"color":"#222"},{"offset":0.835,"color":"#222"},{"offset":0.835,"color":"#fff"},
{"offset":0.8793,"color":"#fff"},{"offset":0.8793,"color":"#222"},{"offset":0.9064,"color":"#222"},{"offset":0.9064,"color":"#fff"},
{"offset":0.9507,"color":"#fff"},{"offset":0.9507,"color":"#222"},{"offset":0.9779,"color":"#222"},{"offset":0.9779,"color":"#fff"}]}}},
{"transform":[{"filter":"datum.station==4 && datum.cat=='3'"}],
 "mark":{"type":"bar","width":66,"stroke":"#231f20","strokeWidth":1.5,"fill":{"gradient":"linear","x1":0,"y1":0,"x2":0,"y2":1,"stops":[
{"offset":0.0155,"color":"#fff"},{"offset":0.0155,"color":"#222"},{"offset":0.0345,"color":"#222"},{"offset":0.0345,"color":"#fff"},
{"offset":0.0655,"color":"#fff"},{"offset":0.0655,"color":"#222"},{"offset":0.0845,"color":"#222"},{"offset":0.0845,"color":"#fff"},
{"offset":0.1155,"color":"#fff"},{"offset":0.1155,"color":"#222"},{"offset":0.1345,"color":"#222"},{"offset":0.1345,"color":"#fff"},
{"offset":0.1655,"color":"#fff"},{"offset":0.1655,"color":"#222"},{"offset":0.1845,"color":"#222"},{"offset":0.1845,"color":"#fff"},
{"offset":0.2155,"color":"#fff"},{"offset":0.2155,"color":"#222"},{"offset":0.2345,"color":"#222"},{"offset":0.2345,"color":"#fff"},
{"offset":0.2655,"color":"#fff"},{"offset":0.2655,"color":"#222"},{"offset":0.2845,"color":"#222"},{"offset":0.2845,"color":"#fff"},
{"offset":0.3155,"color":"#fff"},{"offset":0.3155,"color":"#222"},{"offset":0.3345,"color":"#222"},{"offset":0.3345,"color":"#fff"},
{"offset":0.3655,"color":"#fff"},{"offset":0.3655,"color":"#222"},{"offset":0.3845,"color":"#222"},{"offset":0.3845,"color":"#fff"},
{"offset":0.4155,"color":"#fff"},{"offset":0.4155,"color":"#222"},{"offset":0.4345,"color":"#222"},{"offset":0.4345,"color":"#fff"},
{"offset":0.4655,"color":"#fff"},{"offset":0.4655,"color":"#222"},{"offset":0.4845,"color":"#222"},{"offset":0.4845,"color":"#fff"},
{"offset":0.5155,"color":"#fff"},{"offset":0.5155,"color":"#222"},{"offset":0.5345,"color":"#222"},{"offset":0.5345,"color":"#fff"},
{"offset":0.5655,"color":"#fff"},{"offset":0.5655,"color":"#222"},{"offset":0.5845,"color":"#222"},{"offset":0.5845,"color":"#fff"},
{"offset":0.6155,"color":"#fff"},{"offset":0.6155,"color":"#222"},{"offset":0.6345,"color":"#222"},{"offset":0.6345,"color":"#fff"},
{"offset":0.6655,"color":"#fff"},{"offset":0.6655,"color":"#222"},{"offset":0.6845,"color":"#222"},{"offset":0.6845,"color":"#fff"},
{"offset":0.7155,"color":"#fff"},{"offset":0.7155,"color":"#222"},{"offset":0.7345,"color":"#222"},{"offset":0.7345,"color":"#fff"},
{"offset":0.7655,"color":"#fff"},{"offset":0.7655,"color":"#222"},{"offset":0.7845,"color":"#222"},{"offset":0.7845,"color":"#fff"},
{"offset":0.8155,"color":"#fff"},{"offset":0.8155,"color":"#222"},{"offset":0.8345,"color":"#222"},{"offset":0.8345,"color":"#fff"},
{"offset":0.8655,"color":"#fff"},{"offset":0.8655,"color":"#222"},{"offset":0.8845,"color":"#222"},{"offset":0.8845,"color":"#fff"},
{"offset":0.9155,"color":"#fff"},{"offset":0.9155,"color":"#222"},{"offset":0.9345,"color":"#222"},{"offset":0.9345,"color":"#fff"},
{"offset":0.9655,"color":"#fff"},{"offset":0.9655,"color":"#222"},{"offset":0.9845,"color":"#222"},{"offset":0.9845,"color":"#fff"}]}}},
{"transform":[{"filter":"datum.station==5 && datum.cat=='3'"}],
 "mark":{"type":"bar","width":66,"stroke":"#231f20","strokeWidth":1.5,"fill":{"gradient":"linear","x1":0,"y1":0,"x2":0,"y2":1,"stops":[
{"offset":0.0282,"color":"#fff"},{"offset":0.0282,"color":"#222"},{"offset":0.0627,"color":"#222"},{"offset":0.0627,"color":"#fff"},
{"offset":0.1191,"color":"#fff"},{"offset":0.1191,"color":"#222"},{"offset":0.1536,"color":"#222"},{"offset":0.1536,"color":"#fff"},
{"offset":0.21,"color":"#fff"},{"offset":0.21,"color":"#222"},{"offset":0.2445,"color":"#222"},{"offset":0.2445,"color":"#fff"},
{"offset":0.3009,"color":"#fff"},{"offset":0.3009,"color":"#222"},{"offset":0.3355,"color":"#222"},{"offset":0.3355,"color":"#fff"},
{"offset":0.3918,"color":"#fff"},{"offset":0.3918,"color":"#222"},{"offset":0.4264,"color":"#222"},{"offset":0.4264,"color":"#fff"},
{"offset":0.4827,"color":"#fff"},{"offset":0.4827,"color":"#222"},{"offset":0.5173,"color":"#222"},{"offset":0.5173,"color":"#fff"},
{"offset":0.5736,"color":"#fff"},{"offset":0.5736,"color":"#222"},{"offset":0.6082,"color":"#222"},{"offset":0.6082,"color":"#fff"},
{"offset":0.6645,"color":"#fff"},{"offset":0.6645,"color":"#222"},{"offset":0.6991,"color":"#222"},{"offset":0.6991,"color":"#fff"},
{"offset":0.7555,"color":"#fff"},{"offset":0.7555,"color":"#222"},{"offset":0.79,"color":"#222"},{"offset":0.79,"color":"#fff"},
{"offset":0.8464,"color":"#fff"},{"offset":0.8464,"color":"#222"},{"offset":0.8809,"color":"#222"},{"offset":0.8809,"color":"#fff"},
{"offset":0.9373,"color":"#fff"},{"offset":0.9373,"color":"#222"},{"offset":0.9718,"color":"#222"},{"offset":0.9718,"color":"#fff"}]}}},
{"transform":[{"filter":"datum.station==6 && datum.cat=='3'"}],
 "mark":{"type":"bar","width":66,"stroke":"#231f20","strokeWidth":1.5,"fill":{"gradient":"linear","x1":0,"y1":0,"x2":0,"y2":1,"stops":[
{"offset":0.0344,"color":"#fff"},{"offset":0.0344,"color":"#222"},{"offset":0.0767,"color":"#222"},{"offset":0.0767,"color":"#fff"},
{"offset":0.1456,"color":"#fff"},{"offset":0.1456,"color":"#222"},{"offset":0.1878,"color":"#222"},{"offset":0.1878,"color":"#fff"},
{"offset":0.2567,"color":"#fff"},{"offset":0.2567,"color":"#222"},{"offset":0.2989,"color":"#222"},{"offset":0.2989,"color":"#fff"},
{"offset":0.3678,"color":"#fff"},{"offset":0.3678,"color":"#222"},{"offset":0.41,"color":"#222"},{"offset":0.41,"color":"#fff"},
{"offset":0.4789,"color":"#fff"},{"offset":0.4789,"color":"#222"},{"offset":0.5211,"color":"#222"},{"offset":0.5211,"color":"#fff"},
{"offset":0.59,"color":"#fff"},{"offset":0.59,"color":"#222"},{"offset":0.6322,"color":"#222"},{"offset":0.6322,"color":"#fff"},
{"offset":0.7011,"color":"#fff"},{"offset":0.7011,"color":"#222"},{"offset":0.7433,"color":"#222"},{"offset":0.7433,"color":"#fff"},
{"offset":0.8122,"color":"#fff"},{"offset":0.8122,"color":"#222"},{"offset":0.8544,"color":"#222"},{"offset":0.8544,"color":"#fff"},
{"offset":0.9233,"color":"#fff"},{"offset":0.9233,"color":"#222"},{"offset":0.9656,"color":"#222"},{"offset":0.9656,"color":"#fff"}]}}},
{"transform":[{"filter":"datum.cat=='4'"}],
 "mark":{"type":"bar","width":66,"stroke":"#231f20","strokeWidth":1.5,"fill":{"gradient":"linear","x1":0,"y1":0,"x2":1,"y2":0,"stops":[
{"offset":0.0258,"color":"#fff"},{"offset":0.0258,"color":"#222"},{"offset":0.0575,"color":"#222"},{"offset":0.0575,"color":"#fff"},
{"offset":0.1092,"color":"#fff"},{"offset":0.1092,"color":"#222"},{"offset":0.1408,"color":"#222"},{"offset":0.1408,"color":"#fff"},
{"offset":0.1925,"color":"#fff"},{"offset":0.1925,"color":"#222"},{"offset":0.2242,"color":"#222"},{"offset":0.2242,"color":"#fff"},
{"offset":0.2758,"color":"#fff"},{"offset":0.2758,"color":"#222"},{"offset":0.3075,"color":"#222"},{"offset":0.3075,"color":"#fff"},
{"offset":0.3592,"color":"#fff"},{"offset":0.3592,"color":"#222"},{"offset":0.3908,"color":"#222"},{"offset":0.3908,"color":"#fff"},
{"offset":0.4425,"color":"#fff"},{"offset":0.4425,"color":"#222"},{"offset":0.4742,"color":"#222"},{"offset":0.4742,"color":"#fff"},
{"offset":0.5258,"color":"#fff"},{"offset":0.5258,"color":"#222"},{"offset":0.5575,"color":"#222"},{"offset":0.5575,"color":"#fff"},
{"offset":0.6092,"color":"#fff"},{"offset":0.6092,"color":"#222"},{"offset":0.6408,"color":"#222"},{"offset":0.6408,"color":"#fff"},
{"offset":0.6925,"color":"#fff"},{"offset":0.6925,"color":"#222"},{"offset":0.7242,"color":"#222"},{"offset":0.7242,"color":"#fff"},
{"offset":0.7758,"color":"#fff"},{"offset":0.7758,"color":"#222"},{"offset":0.8075,"color":"#222"},{"offset":0.8075,"color":"#fff"},
{"offset":0.8592,"color":"#fff"},{"offset":0.8592,"color":"#222"},{"offset":0.8908,"color":"#222"},{"offset":0.8908,"color":"#fff"},
{"offset":0.9425,"color":"#fff"},{"offset":0.9425,"color":"#222"},{"offset":0.9742,"color":"#222"},{"offset":0.9742,"color":"#fff"}]}}}
]
}
